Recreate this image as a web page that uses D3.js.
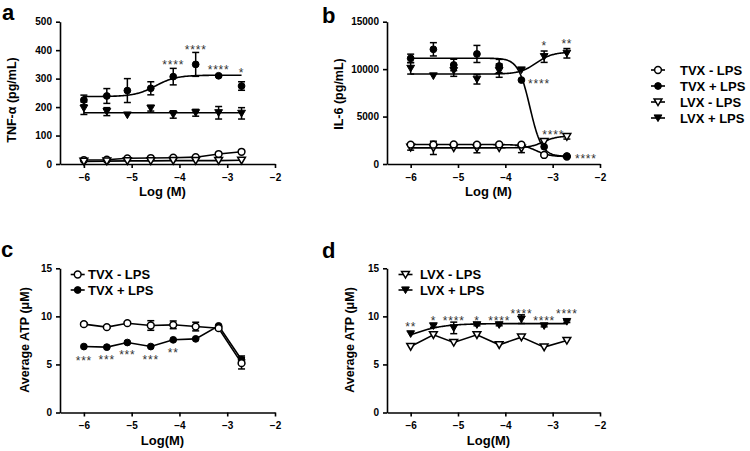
<!DOCTYPE html>
<html><head><meta charset="utf-8">
<script src="https://cdn.jsdelivr.net/npm/d3@7"></script>
<style>
body{margin:0;background:#fff}
svg{display:block;font-family:"Liberation Sans",Arial,sans-serif}
</style></head><body>
<script>
// ---------- DATA ----------
const logConc = [-6, -5.52, -5.09, -4.6, -4.13, -3.66, -3.18, -2.7];
const xTicks = [-6, -5, -4, -3, -2];

// Panel a: TNF-alpha (pg/mL)
const aTvxMinus = [14, 15, 20, 21, 22, 24, 35, 43];
const aTvxPlus = [225, 239, 258, 266, 307, 350, 310, 274];
const aTvxPlusErr = [17, 26, 42, 23, 29, 42, 3, 15];
const aLvxMinus = [9, 10, 11, 11, 12, 12, 12, 13];
const aLvxPlus = [196, 184, 172, 196, 174, 180, 180, 178];
const aLvxPlusErr = [22, 14, 0, 10, 13, 12, 22, 20];
const aTvxPlusFit = [237, 312, -4.5, 2];      // bottom, top, logEC50, hill
const aLvxPlusFit = [180, 180, -4.5, 1];
const aTicks = [0, 100, 200, 300, 400, 500];
const aStars = [["****", -4.13, 359], ["****", -3.66, 412], ["****", -3.18, 342], ["*", -2.7, 330]];

// Panel b: IL-6 (pg/mL)
const bTvxMinus = [2050, 2040, 2060, 2030, 2060, 2050, 950, 780];
const bTvxMinusErr = [100, 100, 100, 100, 100, 100, 100, 80];
const bTvxPlus = [11140, 12090, 10440, 11600, 10330, 8850, 1820, 840];
const bTvxPlusErr = [440, 700, 600, 900, 700, 0, 0, 0];
const bLvxMinus = [1760, 1700, 1700, 1680, 1700, 1650, 2350, 2880];
const bLvxMinusErr = [300, 700, 0, 500, 0, 450, 0, 250];
const bLvxPlus = [10080, 9280, 9840, 8930, 9840, 9910, 11310, 11670];
const bLvxPlusErr = [600, 0, 600, 500, 700, 0, 600, 500];
const bTvxMinusFit = [780, 2050, -3.35, -3];
const bTvxPlusFit = [800, 11150, -3.48, -3.5];
const bLvxMinusFit = [1700, 2950, -3.2, 3];
const bLvxPlusFit = [9480, 11800, -3.35, 2.5];
const bTicks = [0, 5000, 10000, 15000];
const bStars = [["*", -3.18, 12790, "middle"], ["**", -2.7, 13000, "middle"],
  ["****", -3.52, 8750, "start"], ["****", -3.22, 3340, "start"], ["****", -2.53, 843, "start"]];

// Panel c: Average ATP (µM), TVX
const cTvxMinus = [9.19, 8.88, 9.29, 9.05, 9.12, 8.94, 8.77, 5.13];
const cTvxMinusErr = [0.15, 0.1, 0.1, 0.5, 0.4, 0.45, 0.15, 0.6];
const cTvxPlus = [6.86, 6.8, 7.28, 6.86, 7.56, 7.66, 9.01, 5.48];
const cTvxPlusErr = [0, 0, 0, 0, 0, 0, 0.1, 0.4];
const cdTicks = [0, 5, 10, 15];
const cStars = [["***", -6, 5.64], ["***", -5.52, 5.75], ["***", -5.09, 6.33], ["***", -4.6, 5.82], ["**", -4.13, 6.52]];

// Panel d: Average ATP (µM), LVX
const dLvxMinus = [6.86, 8.08, 7.28, 8.08, 7.04, 7.84, 6.8, 7.49];
const dLvxPlus = [8.18, 9.01, 8.8, 9.12, 9.12, 9.71, 9.01, 9.46];
const dLvxPlusErr = [0, 0.15, 0.6, 0.1, 0.1, 0.45, 0.1, 0.1];
const dLvxPlusFit = [6.5, 9.25, -6.1, 1.2];
const dStars = [["**", -6, 9.19], ["*", -5.52, 9.88], ["****", -5.09, 9.88], ["*", -4.6, 9.88],
  ["****", -4.13, 9.88], ["****", -3.66, 10.57], ["****", -3.18, 9.88], ["****", -2.7, 10.57]];

const legendLabels = ["TVX - LPS", "TVX + LPS", "LVX - LPS", "LVX + LPS"];

// ---------- DRAW ----------
const W = 750, H = 451;
const svg = d3.select("body").append("svg").attr("width", W).attr("height", H);

function markerPath(type) {
  if (type === "circle") return d3.symbol(d3.symbolCircle, 36)();
  return "M-3.9,-3.1L3.9,-3.1L0,3.6Z";
}
function markerStyle(sel, type) {
  const open = type === "ocircle" || type === "otri";
  sel.attr("d", markerPath(type === "ocircle" || type === "fcircle" ? "circle" : "tri"))
    .attr("fill", open ? "#fff" : "#000")
    .attr("stroke", "#000").attr("stroke-width", open ? 1.5 : 1);
}
function fourPL(p, x) {
  return p[0] + (p[1] - p[0]) / (1 + Math.pow(10, p[3] * (p[2] - x)));
}

function panel(cfg) {
  const g = svg.append("g");
  const x = d3.scaleLinear().domain([-6.5, -2]).range([cfg.x0, cfg.x1]);
  const y = d3.scaleLinear().domain([0, cfg.ymax]).range([cfg.y0, cfg.y1]);

  // axes
  const xa = g.append("g").attr("transform", `translate(0,${cfg.y0})`)
    .call(d3.axisBottom(x).tickValues(xTicks).tickSize(4).tickSizeOuter(0).tickFormat(d3.format("d")));
  const ya = g.append("g").attr("transform", `translate(${cfg.x0},0)`)
    .call(d3.axisLeft(y).tickValues(cfg.ticks).tickSize(4).tickSizeOuter(0).tickFormat(d3.format("d")));
  [xa, ya].forEach(a => {
    a.select(".domain").attr("stroke-width", 1.6);
    a.selectAll(".tick line").attr("stroke-width", 1.6);
    a.selectAll("text").attr("font-size", 10).attr("font-weight", "bold")
      .attr("font-family", "Liberation Sans, Arial, sans-serif").attr("fill", "#000");
  });
  xa.selectAll("text").attr("dy", "0.95em");
  ya.selectAll("text").attr("dx", "-1px");

  // titles
  g.append("text").attr("x", (cfg.x0 + cfg.x1) / 2 - 5).attr("y", cfg.y0 + 32)
    .attr("text-anchor", "middle").attr("font-size", 13).attr("font-weight", "bold").text(cfg.xTitle);
  g.append("text").attr("transform", `translate(${cfg.yTitleX},${cfg.yTitleY}) rotate(-90)`)
    .attr("text-anchor", "middle").attr("font-size", 12.5).attr("font-weight", "bold").text(cfg.yTitle);
  g.append("text").attr("x", cfg.letterX).attr("y", cfg.letterY)
    .attr("font-size", 22).attr("font-weight", "bold").text(cfg.letter);

  // lines
  const line = d3.line().x(d => x(d[0])).y(d => y(d[1]));
  cfg.series.forEach(s => {
    let pts;
    if (s.fit) {
      const xs = d3.range(0, 201).map(i => -6 + i * (3.3 / 200));
      pts = xs.map(v => [v, fourPL(s.fit, v)]);
    } else {
      pts = logConc.map((v, i) => [v, s.values[i]]);
    }
    g.append("path").attr("d", line(pts)).attr("fill", "none").attr("stroke", "#000").attr("stroke-width", 1.6);
  });
  // error bars
  cfg.series.forEach(s => {
    if (!s.err) return;
    logConc.forEach((v, i) => {
      const e = s.err[i]; if (!e) return;
      const cx = x(v), yt = y(s.values[i] + e), yb = y(s.values[i] - e);
      g.append("line").attr("x1", cx).attr("x2", cx).attr("y1", yt).attr("y2", yb).attr("stroke", "#000").attr("stroke-width", 1.5);
      [yt, yb].forEach(yy => g.append("line").attr("x1", cx - 3.5).attr("x2", cx + 3.5).attr("y1", yy).attr("y2", yy)
        .attr("stroke", "#000").attr("stroke-width", 1.5));
    });
  });
  // markers
  cfg.series.forEach(s => {
    g.selectAll(null).data(logConc.map((v, i) => [v, s.values[i]])).enter().append("path")
      .attr("transform", d => `translate(${x(d[0])},${y(d[1])})`).call(markerStyle, s.type);
  });
  // stars
  cfg.stars.forEach(st => {
    g.append("text").attr("x", x(st[1])).attr("y", y(st[2]) + 7)
      .attr("text-anchor", st[3] || "middle").attr("font-size", 12).attr("letter-spacing", "0.8px")
      .attr("fill", "#333").text(st[0]);
  });
  // inner legend
  if (cfg.legend) {
    cfg.legend.items.forEach((it, i) => {
      const ly = cfg.legend.y + i * 15.5;
      g.append("line").attr("x1", cfg.legend.x - 7).attr("x2", cfg.legend.x + 7).attr("y1", ly).attr("y2", ly)
        .attr("stroke", "#000").attr("stroke-width", 1.6);
      g.append("path").attr("transform", `translate(${cfg.legend.x},${ly})`).call(markerStyle, it[1]);
      g.append("text").attr("x", cfg.legend.tx).attr("y", ly + 4.5).attr("font-size", 13).attr("font-weight", "bold").text(it[0]);
    });
  }
}

panel({
  x0: 60, x1: 275, y0: 164, y1: 21.7, ymax: 500, ticks: aTicks,
  xTitle: "Log (M)", yTitle: "TNF-α (pg/mL)", yTitleX: 16, yTitleY: 100,
  letter: "a", letterX: 2, letterY: 20,
  series: [
    { values: aTvxMinus, type: "ocircle" },
    { values: aLvxMinus, type: "otri" },
    { values: aLvxPlus, err: aLvxPlusErr, fit: aLvxPlusFit, type: "ftri" },
    { values: aTvxPlus, err: aTvxPlusErr, fit: aTvxPlusFit, type: "fcircle" }
  ],
  stars: aStars
});
panel({
  x0: 387, x1: 600, y0: 164, y1: 21.7, ymax: 15000, ticks: bTicks,
  xTitle: "Log (M)", yTitle: "IL-6 (pg/mL)", yTitleX: 343, yTitleY: 94,
  letter: "b", letterX: 322, letterY: 23,
  series: [
    { values: bLvxMinus, err: bLvxMinusErr, fit: bLvxMinusFit, type: "otri" },
    { values: bTvxMinus, err: bTvxMinusErr, fit: bTvxMinusFit, type: "ocircle" },
    { values: bLvxPlus, err: bLvxPlusErr, fit: bLvxPlusFit, type: "ftri" },
    { values: bTvxPlus, err: bTvxPlusErr, fit: bTvxPlusFit, type: "fcircle" }
  ],
  stars: bStars
});
panel({
  x0: 60, x1: 275, y0: 412.5, y1: 268.3, ymax: 15, ticks: cdTicks,
  xTitle: "Log(M)", yTitle: "Average ATP (μM)", yTitleX: 29, yTitleY: 340,
  letter: "c", letterX: 1, letterY: 257,
  series: [
    { values: cTvxPlus, err: cTvxPlusErr, type: "fcircle" },
    { values: cTvxMinus, err: cTvxMinusErr, type: "ocircle" }
  ],
  stars: cStars,
  legend: { x: 77.7, tx: 88, y: 274.5, items: [[legendLabels[0], "ocircle"], [legendLabels[1], "fcircle"]] }
});
panel({
  x0: 387, x1: 600, y0: 412.5, y1: 268.3, ymax: 15, ticks: cdTicks,
  xTitle: "Log(M)", yTitle: "Average ATP (μM)", yTitleX: 354, yTitleY: 340,
  letter: "d", letterX: 322, letterY: 258,
  series: [
    { values: dLvxMinus, type: "otri" },
    { values: dLvxPlus, err: dLvxPlusErr, fit: dLvxPlusFit, type: "ftri" }
  ],
  stars: dStars,
  legend: { x: 405.5, tx: 420, y: 274.5, items: [[legendLabels[2], "otri"], [legendLabels[3], "ftri"]] }
});

// right legend
const legTypes = ["ocircle", "fcircle", "otri", "ftri"];
const rl = svg.append("g");
legendLabels.forEach((lab, i) => {
  const ly = 70 + i * 16;
  rl.append("line").attr("x1", 651).attr("x2", 665).attr("y1", ly).attr("y2", ly).attr("stroke", "#000").attr("stroke-width", 1.6);
  rl.append("path").attr("transform", `translate(658,${ly})`).call(markerStyle, legTypes[i]);
  rl.append("text").attr("x", 680).attr("y", ly + 4.6).attr("font-size", 13).attr("font-weight", "bold").text(lab);
});
</script>
</body></html>
